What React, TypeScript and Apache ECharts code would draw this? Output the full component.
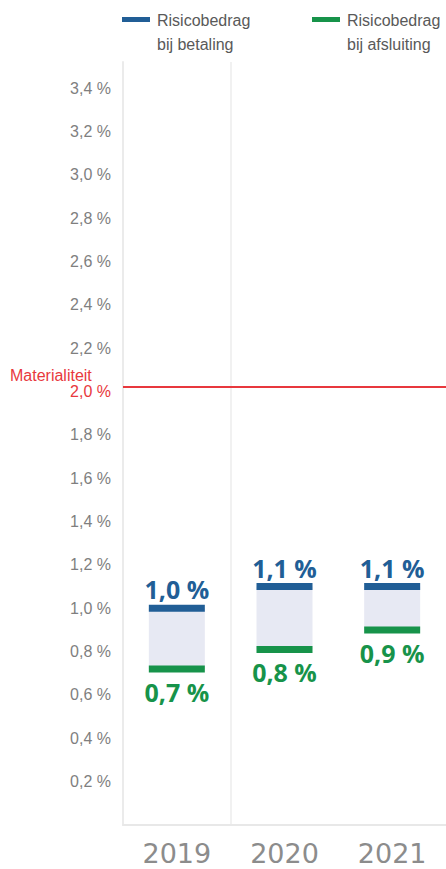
import React, { useEffect, useRef } from "react";
import * as echarts from "echarts";

const years = ["2019", "2020", "2021"];
const betaling = [1.0, 1.1, 1.1];
const afsluiting = [0.72, 0.81, 0.9];
const materialiteit = 2.02;
const materialiteitLabel = "Materialiteit";
const legendNames = ["Risicobedrag\nbij betaling", "Risicobedrag\nbij afsluiting"];

const BLUE = "#215e96";
const GREEN = "#17934a";
const FILL = "#e7e9f3";
const RED = "#e8383d";

const fmt = (v: number) => v.toFixed(1).replace(".", ",") + " %";

export default function App() {
  const ref = useRef<HTMLDivElement>(null);
  useEffect(() => {
    if (!ref.current) return;
    const chart = echarts.init(ref.current, null, { renderer: "svg" });
    const labelFont = "'Open Sans', sans-serif";
    chart.setOption({
      animation: false,
      grid: { left: 123, top: 62, bottom: 44, width: 330 },
      graphic: [
        { type: "rect", shape: { x: 122, y: 17, width: 28, height: 5 }, style: { fill: BLUE } },
        {
          type: "text", x: 157, y: 8,
          style: { text: legendNames[0], fill: "#595959", font: "16px 'Liberation Sans', Arial, sans-serif", lineHeight: 24, verticalAlign: "top" },
        },
        { type: "rect", shape: { x: 312, y: 17, width: 28, height: 5 }, style: { fill: GREEN } },
        {
          type: "text", x: 347, y: 8,
          style: { text: legendNames[1], fill: "#595959", font: "16px 'Liberation Sans', Arial, sans-serif", lineHeight: 24, verticalAlign: "top" },
        },
        {
          type: "text", x: 10, y: 375,
          style: { text: materialiteitLabel, fill: RED, font: "16px 'Liberation Sans', Arial, sans-serif", verticalAlign: "middle" },
        },
      ],
      xAxis: {
        type: "category",
        data: years,
        boundaryGap: true,
        axisTick: { show: false },
        axisLine: { show: true, lineStyle: { color: "#e8e8e8", width: 2 } },
        axisLabel: { fontFamily: "'DejaVu Sans', sans-serif", fontSize: 27, color: "#8c8c8c", margin: 15 },
        splitLine: {
          show: true,
          lineStyle: { color: ["rgba(0,0,0,0)", "#ececec", "rgba(0,0,0,0)", "rgba(0,0,0,0)"], width: 1.5 },
        },
      },
      yAxis: {
        type: "value",
        min: 0,
        max: 3.52,
        interval: 0.2,
        splitLine: { show: false },
        axisTick: { show: false },
        axisLine: { show: true, lineStyle: { color: "#ebebeb", width: 2 } },
        axisLabel: {
          margin: 12,
          fontFamily: "'Liberation Sans', Arial, sans-serif",
          fontSize: 16,
          color: "#7f7f7f",
          showMaxLabel: false,
          formatter: (v: number) => {
            if (v <= 0.001 || v > 3.45) return "";
            const s = fmt(v);
            if (Math.abs(v - 2) < 1e-6) return `{r|${s}}`;
            return s;
          },
          rich: { r: { color: RED, fontSize: 16, fontFamily: "'Liberation Sans', Arial, sans-serif" } },
        },
      },
      series: [
        {
          type: "bar",
          stack: "range",
          barWidth: 56,
          silent: true,
          itemStyle: { color: "rgba(0,0,0,0)" },
          data: afsluiting,
        },
        {
          type: "bar",
          stack: "range",
          barWidth: 56,
          silent: true,
          itemStyle: { color: FILL },
          data: betaling.map((v, i) => +(v - afsluiting[i]).toFixed(4)),
          markLine: {
            silent: true,
            symbol: "none",
            label: { show: false },
            lineStyle: { color: RED, width: 2, type: "solid" },
            data: [{ yAxis: materialiteit }],
          },
        },
        {
          type: "scatter",
          symbol: "rect",
          symbolSize: [56, 7],
          itemStyle: { color: BLUE, opacity: 1 },
          data: betaling,
          label: {
            show: true,
            position: "top",
            distance: 3,
            color: BLUE,
            fontFamily: labelFont,
            fontWeight: "bold",
            fontSize: 25,
            formatter: (p: any) => fmt(p.value),
          },
        },
        {
          type: "scatter",
          symbol: "rect",
          symbolSize: [56, 7],
          itemStyle: { color: GREEN, opacity: 1 },
          data: afsluiting,
          label: {
            show: true,
            position: "bottom",
            distance: 7,
            color: GREEN,
            fontFamily: labelFont,
            fontWeight: "bold",
            fontSize: 25,
            formatter: (p: any) => fmt(p.value),
          },
        },
      ],
    });
    return () => chart.dispose();
  }, []);
  return (
    <div
      ref={ref}
      style={{ position: "absolute", left: 0, top: 0, width: 446, height: 869, background: "#fff" }}
    />
  );
}
